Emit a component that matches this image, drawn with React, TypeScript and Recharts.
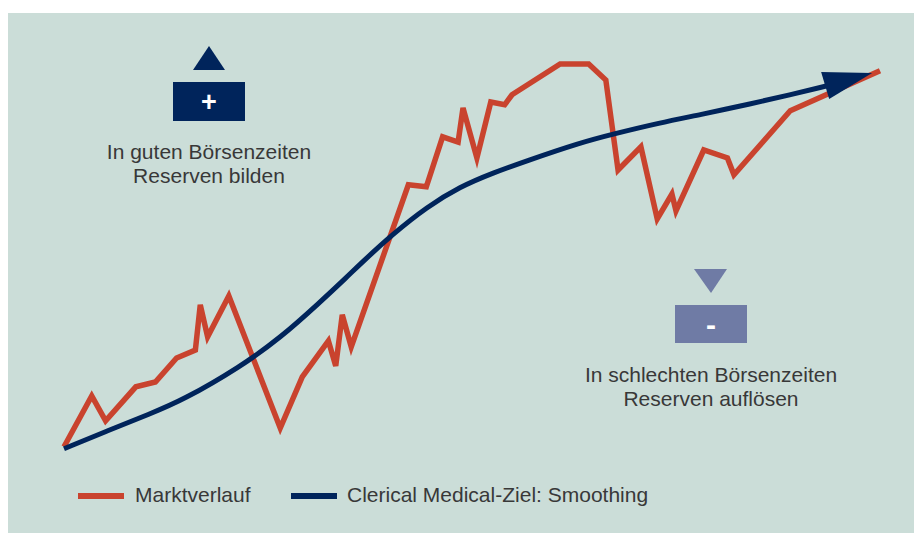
import { LineChart, Line, XAxis, YAxis } from 'recharts'

const RED = '#c9432e'
const NAVY = '#00245b'
const LIGHT = '#6f7ba5'
const BG = '#cbddd8'
const TEXT = '#383838'

// Marktverlauf
const marketX = [0, 3.4, 5.1, 8.8, 11.2, 13.8, 16.1, 16.7, 17.6, 20.2, 26.5, 29.2, 32.4, 33.3, 34.1, 35.2, 42.2, 44.4, 46.4, 48.3, 48.9, 50.6, 52.3, 54, 54.9, 60.8, 64.3, 66.4, 67.9, 70.7, 72.7, 74.5, 75, 78.4, 81.3, 82.1, 89, 100]
const marketY = [3.3, 16, 9.8, 18.3, 19.5, 25.5, 27.5, 38.8, 30.8, 41, 8, 20.8, 29.8, 23.5, 36.3, 28.3, 68.8, 68.3, 80.8, 79.5, 88, 75.5, 89.5, 88.8, 91.3, 99, 99, 95, 72.5, 78.3, 60.3, 66.5, 62.3, 77.5, 75.5, 71.3, 87.3, 97.3]

// Clerical Medical-Ziel: Smoothing
const smoothX = [0, 5.3, 10.5, 14.6, 21.6, 26.5, 31.4, 34.7, 36.3, 40.3, 44.5, 48.5, 52.6, 56.7, 63.2, 67.3, 73, 77.9, 84.1, 89, 93.4]
const smoothY = [2.8, 7.3, 11.5, 15, 23.3, 30.5, 39.5, 45.8, 49, 56.5, 63.3, 68.3, 71.8, 74.8, 79.3, 81.5, 84.3, 86.3, 89, 91.3, 93.5]

const seriesNames = ['Marktverlauf', 'Clerical Medical-Ziel: Smoothing']
const goodTimes = ['In guten Börsenzeiten', 'Reserven bilden']
const badTimes = ['In schlechten Börsenzeiten', 'Reserven auflösen']

const marketData = marketX.map((x, i) => ({ x, y: marketY[i] }))
const smoothData = smoothX.map((x, i) => ({ x, y: smoothY[i] }))

const FONT = '"Liberation Sans", Arial, sans-serif'

function ArrowHead(props: any) {
  const { cx, cy, index } = props
  if (index !== smoothData.length - 1) return <g key={`dot-${index}`} />
  return (
    <polygon
      key="arrow"
      points={`${cx - 5},${cy - 14} ${cx + 46},${cy - 13} ${cx + 3},${cy + 13}`}
      fill={NAVY}
    />
  )
}

export default function App() {
  return (
    <div style={{ position: 'relative', width: 914, height: 520, marginTop: 5, background: BG, fontFamily: FONT }}>
      <LineChart width={914} height={520} margin={{ top: 47, right: 42, bottom: 73, left: 56 }}>
        <XAxis type="number" dataKey="x" domain={[0, 100]} hide allowDuplicatedCategory={false} />
        <YAxis type="number" dataKey="y" domain={[0, 100]} hide />
        <Line
          data={marketData}
          dataKey="y"
          name={seriesNames[0]}
          type="linear"
          stroke={RED}
          strokeWidth={5.5}
          strokeLinejoin="miter"
          dot={false}
          isAnimationActive={false}
        />
        <Line
          data={smoothData}
          dataKey="y"
          name={seriesNames[1]}
          type="basis"
          stroke={NAVY}
          strokeWidth={5}
          dot={ArrowHead}
          isAnimationActive={false}
        />
      </LineChart>

      <svg width={914} height={520} style={{ position: 'absolute', left: 0, top: 0, pointerEvents: 'none' }}>
        {/* good times */}
        <polygon points="201,33 185,57 217,57" fill={NAVY} />
        <rect x={165} y={69} width={72} height={39} fill={NAVY} />
        <text x={201} y={98} textAnchor="middle" fill="#fff" fontSize={27} fontWeight="bold" fontFamily={FONT}>+</text>
        {goodTimes.map((t, i) => (
          <text key={t} x={201} y={146 + i * 24} textAnchor="middle" fill={TEXT} fontSize={21} fontFamily={FONT}>{t}</text>
        ))}

        {/* bad times */}
        <polygon points="686,256 719,256 703,280" fill={LIGHT} />
        <rect x={667} y={292} width={72} height={38} fill={LIGHT} />
        <text x={703} y={322} textAnchor="middle" fill="#fff" fontSize={30} fontWeight="bold" fontFamily={FONT}>-</text>
        {badTimes.map((t, i) => (
          <text key={t} x={703} y={369 + i * 24} textAnchor="middle" fill={TEXT} fontSize={21} fontFamily={FONT}>{t}</text>
        ))}

        {/* legend */}
        <line x1={70} x2={116} y1={483} y2={483} stroke={RED} strokeWidth={6} />
        <text x={127} y={489} fill={TEXT} fontSize={21} fontFamily={FONT}>{seriesNames[0]}</text>
        <line x1={283} x2={329} y1={483} y2={483} stroke={NAVY} strokeWidth={6} />
        <text x={339} y={489} fill={TEXT} fontSize={21} fontFamily={FONT}>{seriesNames[1]}</text>
      </svg>
    </div>
  )
}
